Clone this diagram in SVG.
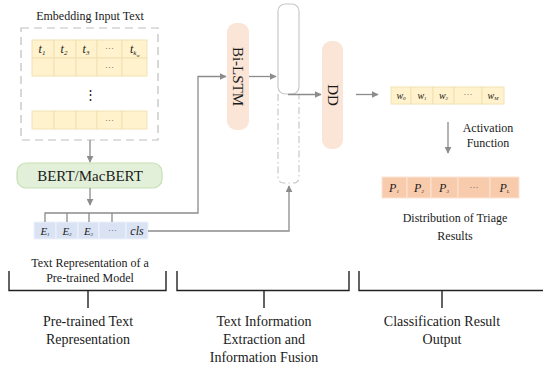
<svg xmlns="http://www.w3.org/2000/svg" width="543" height="373" viewBox="0 0 543 373" font-family="'Liberation Serif', 'Times New Roman', serif">
<defs>
<marker id="ah" viewBox="0 0 10 10" refX="9" refY="5" markerWidth="7" markerHeight="7" markerUnits="userSpaceOnUse" orient="auto">
<path d="M0,0 L10,5 L0,10 z" fill="#8c8c8c"/>
</marker>
<style>
text{font-family:"Liberation Serif","Times New Roman",serif;fill:#1a1a1a}
.t12{font-size:12px}
.t14{font-size:14px}
.t15{font-size:15px}
.it{font-style:italic}
.c{text-anchor:middle}
.ycell{fill:#fff2cc;stroke:#f2e2b3;stroke-width:1}
.bcell{fill:#dae3f3;stroke:#eef2fa;stroke-width:1}
.pcell{fill:#f8cbad;stroke:#fbe3d3;stroke-width:1}
.peach{fill:#fbe5d6;stroke:none}
.conn{fill:none;stroke:#8c8c8c;stroke-width:1.3}
.brk{fill:none;stroke:#222;stroke-width:1.4}
.dots{font-size:9px;fill:#555}
</style>
</defs>

<g id="embedding-input">
<text class="t12 c" x="90" y="20">Embedding Input Text</text>
<rect x="21" y="28" width="137" height="112" fill="none" stroke="#bfbfbf" stroke-width="1.2" stroke-dasharray="8,5"/>
<rect class="ycell" x="32" y="40" width="22" height="18"/>
<rect class="ycell" x="54" y="40" width="22" height="18"/>
<rect class="ycell" x="76" y="40" width="21" height="18"/>
<rect class="ycell" x="97" y="40" width="25" height="18"/>
<rect class="ycell" x="122" y="40" width="25" height="18"/>
<rect class="ycell" x="32" y="58" width="22" height="18"/>
<rect class="ycell" x="54" y="58" width="22" height="18"/>
<rect class="ycell" x="76" y="58" width="21" height="18"/>
<rect class="ycell" x="97" y="58" width="25" height="18"/>
<rect class="ycell" x="122" y="58" width="25" height="18"/>
<rect class="ycell" x="32" y="111" width="22" height="18"/>
<rect class="ycell" x="54" y="111" width="22" height="18"/>
<rect class="ycell" x="76" y="111" width="21" height="18"/>
<rect class="ycell" x="97" y="111" width="25" height="18"/>
<rect class="ycell" x="122" y="111" width="25" height="18"/>
<text class="it c" font-size="12" x="42" y="53">t<tspan font-size="7" dy="2">1</tspan></text>
<text class="it c" font-size="12" x="64" y="53">t<tspan font-size="7" dy="2">2</tspan></text>
<text class="it c" font-size="12" x="86" y="53">t<tspan font-size="7" dy="2">3</tspan></text>
<text class="dots c" x="109.5" y="51">···</text>
<text class="it" font-size="12" x="130" y="53">t<tspan font-size="7" dy="2">k</tspan><tspan font-size="5" dy="1.5">w</tspan></text>
<text class="dots c" x="109.5" y="70">···</text>
<text class="c" font-size="13" x="90" y="99" fill="#222">⋮</text>
<text class="dots c" x="109.5" y="123">···</text>
</g>

<g id="bert">
<rect x="17" y="163" width="145" height="25" rx="9" fill="#e2f0d9" stroke="#c5e0b4" stroke-width="1.2"/>
<text class="t15 c" x="90" y="181">BERT/MacBERT</text>
</g>

<g id="e-row">
<rect class="bcell" x="34" y="222" width="22" height="17"/>
<rect class="bcell" x="56" y="222" width="22" height="17"/>
<rect class="bcell" x="78" y="222" width="21" height="17"/>
<rect class="bcell" x="99" y="222" width="27" height="17"/>
<rect class="bcell" x="126" y="222" width="22" height="17"/>
<text class="it c" font-size="11" x="45" y="235">E<tspan font-size="5" dy="1">1</tspan></text>
<text class="it c" font-size="11" x="67" y="235">E<tspan font-size="5" dy="1">2</tspan></text>
<text class="it c" font-size="11" x="88.5" y="235">E<tspan font-size="5" dy="1">3</tspan></text>
<text class="dots c" x="112.5" y="233">···</text>
<text class="it c" font-size="12" x="137" y="235">cls</text>
<text class="t12 c" x="90" y="267">Text Representation of a</text>
<text class="t12 c" x="90" y="282">Pre-trained Model</text>
</g>

<g id="bilstm">
<rect class="peach" x="227" y="23" width="22" height="107" rx="9"/>
<text class="t15 c" transform="translate(238,76.5) rotate(90)" y="5">Bi-LSTM</text>
</g>

<g id="fusion">
<rect x="278" y="4" width="21" height="90" rx="7" fill="#fff" stroke="#c8c8c8" stroke-width="1.2"/>
<path d="M278,94 V177 Q278,183 284,183 H293 Q299,183 299,177 V94" fill="none" stroke="#c8c8c8" stroke-width="1.2" stroke-dasharray="7,3,1.5,3"/>
</g>

<g id="dd">
<rect class="peach" x="322" y="41" width="21" height="108" rx="9"/>
<text class="t15 c" transform="translate(332.5,95) rotate(90)" y="5">DD</text>
</g>

<g id="w-row">
<rect class="ycell" x="391" y="87" width="20" height="17"/>
<rect class="ycell" x="411" y="87" width="22" height="17"/>
<rect class="ycell" x="433" y="87" width="21" height="17"/>
<rect class="ycell" x="454" y="87" width="28" height="17"/>
<rect class="ycell" x="482" y="87" width="22" height="17"/>
<text class="it c" font-size="10" x="401" y="99">w<tspan font-size="5" dy="1">0</tspan></text>
<text class="it c" font-size="10" x="422" y="99">w<tspan font-size="5" dy="1">1</tspan></text>
<text class="it c" font-size="10" x="443.5" y="99">w<tspan font-size="5" dy="1">2</tspan></text>
<text class="dots c" x="468" y="97">···</text>
<text class="it c" font-size="10" x="493" y="99">w<tspan font-size="5" dy="1">M</tspan></text>
</g>

<g id="activation">
<text class="t12 c" x="488" y="132">Activation</text>
<text class="t12 c" x="488" y="147">Function</text>
</g>

<g id="p-row">
<rect class="pcell" x="382" y="177" width="25" height="21"/>
<rect class="pcell" x="407" y="177" width="24" height="21"/>
<rect class="pcell" x="431" y="177" width="27" height="21"/>
<rect class="pcell" x="458" y="177" width="32" height="21"/>
<rect class="pcell" x="490" y="177" width="29" height="21"/>
<text class="it c" font-size="12" x="394" y="192">P<tspan font-size="5" dy="1">1</tspan></text>
<text class="it c" font-size="12" x="419" y="192">P<tspan font-size="5" dy="1">2</tspan></text>
<text class="it c" font-size="12" x="444" y="192">P<tspan font-size="5" dy="1">3</tspan></text>
<text class="dots c" x="474" y="190">···</text>
<text class="it c" font-size="12" x="504.5" y="192">P<tspan font-size="5" dy="1">L</tspan></text>
<text class="t12 c" x="455" y="222">Distribution of Triage</text>
<text class="t12 c" x="455" y="240">Results</text>
</g>

<g id="connectors">
<path class="conn" d="M90,140 V162" marker-end="url(#ah)"/>
<path class="conn" d="M90,188 V205" marker-end="url(#ah)"/>
<path class="conn" d="M45,222 V213 H198 V76.5 H226" marker-end="url(#ah)"/>
<path class="conn" d="M67,222 V213 M89,222 V213 M112,222 V213"/>
<path class="conn" d="M148,231 H289 V186" marker-end="url(#ah)"/>
<path class="conn" d="M249,76.5 H276" marker-end="url(#ah)"/>
<path class="conn" d="M288,94.5 H321" marker-end="url(#ah)"/>
<path class="conn" d="M356,94.5 H378" marker-end="url(#ah)"/>
<path class="conn" d="M448,122 V153" marker-end="url(#ah)"/>
</g>

<g id="brackets">
<path class="brk" d="M9,271 V290.5 H166 V271 M88,290.5 V308"/>
<path class="brk" d="M177,271 V290.5 H349 V271 M264,290.5 V308"/>
<path class="brk" d="M359,271 V290.5 H543 M442,290.5 V308"/>
<text class="t14 c" x="88" y="326">Pre-trained Text</text>
<text class="t14 c" x="88" y="344">Representation</text>
<text class="t14 c" x="264" y="326">Text Information</text>
<text class="t14 c" x="264" y="344">Extraction and</text>
<text class="t14 c" x="264" y="362">Information Fusion</text>
<text class="t14 c" x="442" y="326">Classification Result</text>
<text class="t14 c" x="442" y="344">Output</text>
</g>
</svg>
